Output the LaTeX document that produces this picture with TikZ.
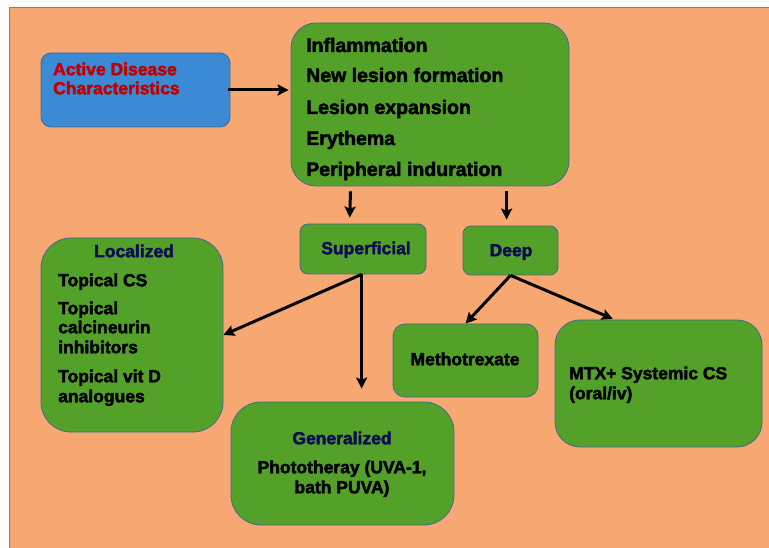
\documentclass[tikz,border=0pt]{standalone}
\usepackage{fontspec}
\setmainfont{Liberation Sans}
\newfontfamily\hvy[FakeBold=2.5]{Liberation Sans Bold}
\usetikzlibrary{arrows.meta,calc}
\definecolor{bgor}{RGB}{247,168,114}
\definecolor{bxgreen}{RGB}{84,161,42}
\definecolor{bxblue}{RGB}{58,138,214}
\definecolor{bxedge}{RGB}{65,105,140}
\definecolor{redtxt}{RGB}{192,0,0}
\definecolor{navytxt}{RGB}{12,14,80}
\definecolor{framecol}{RGB}{165,115,85}
\begin{document}
\begin{tikzpicture}[x=1pt,y=-1pt,
  box/.style={draw=bxedge, line width=0.8pt, fill=bxgreen, rounded corners=#1, inner sep=0pt},
  txt/.style={font=\fontsize{17.5}{20}\hvy, inner sep=0pt, text height=12.5pt, text depth=0pt, text=black},
  bigtxt/.style={txt, font=\fontsize{19.5}{22}\hvy, text height=14pt},
  head/.style={txt, text=navytxt},
  arr/.style={line width=3pt, -{Stealth[length=11pt,width=11pt,inset=2pt]}}]
\useasboundingbox (0,0) rectangle (769,548);
\fill[white] (0,0) rectangle (769,548);
\fill[bgor] (9,8) rectangle (769,548);
\draw[framecol, line width=1pt] (9,548) -- (9,8) -- (769,8);

% boxes
\node[box=10pt, fill=bxblue, minimum width=189pt, minimum height=74pt] (act) at (135.5,90) {};
\node[box=25pt, minimum width=278pt, minimum height=163pt] (top) at (430,104.5) {};
\node[box=8pt, minimum width=126pt, minimum height=50pt] (sup) at (363,249) {};
\node[box=8pt, minimum width=95pt, minimum height=49pt] (deep) at (510.5,250.5) {};
\node[box=30pt, minimum width=182pt, minimum height=194pt] (loc) at (132,335) {};
\node[box=12pt, minimum width=145pt, minimum height=73pt] (meth) at (465.5,360.5) {};
\node[box=25pt, minimum width=207pt, minimum height=127pt] (mtx) at (658.5,383.5) {};
\node[box=30pt, minimum width=223pt, minimum height=123pt] (gen) at (342.5,463.5) {};

% texts
\node[txt, text=redtxt, anchor=west] (act1) at (53,69) {Active Disease};
\node[txt, text=redtxt, anchor=west] (act2) at (53,88) {Characteristics};

\node[bigtxt, anchor=west] (top1) at (306,45) {Inflammation};
\node[bigtxt, anchor=west] (top2) at (306,75) {New lesion formation};
\node[bigtxt, anchor=west] (top3) at (306,107) {Lesion expansion};
\node[bigtxt, anchor=west] (top4) at (306,138) {Erythema};
\node[bigtxt, anchor=west] (top5) at (306,169) {Peripheral induration};

\node[head] (supt) at (366,248) {Superficial};
\node[head] (deept) at (511,250) {Deep};

\node[head] (loct) at (134,251) {Localized};
\node[txt, anchor=west] (loc1) at (58,280) {Topical CS};
\node[txt, anchor=west] (loc2) at (58,308) {Topical};
\node[txt, anchor=west] (loc3) at (58,327) {calcineurin};
\node[txt, anchor=west] (loc4) at (58,347) {inhibitors};
\node[txt, anchor=west] (loc5) at (58,376) {Topical vit D};
\node[txt, anchor=west] (loc6) at (58,396) {analogues};

\node[txt] (metht) at (465,359) {Methotrexate};
\node[txt, anchor=west] (mtx1) at (569,373) {MTX+ Systemic CS};
\node[txt, anchor=west] (mtx2) at (569,393) {(oral/iv)};

\node[head] (gent) at (342,438) {Generalized};
\node[txt] (gen1) at (342,467) {Phototheray (UVA-1,};
\node[txt] (gen2) at (342,487) {bath PUVA)};

% connectors
\draw[arr, shorten <=-2pt, shorten >=2pt] (act.east) -- (act.east -| top.west);
\draw[arr, shorten <=5pt, shorten >=6pt] ($(top.south west)+(60,0)$) -- ($(sup.north west)+(50,0)$);
\draw[arr, shorten <=5pt, shorten >=6pt] ($(top.south west)+(216,0)$) -- ($(deep.north west)+(44,0)$);
\coordinate (supo) at ($(sup.south west)+(62,0)$);
\draw[arr] (supo) -- (loc.east);
\draw[arr, shorten >=13pt] (supo) -- (supo |- gen.north);
\coordinate (deepo) at (deep.south);
\draw[arr] (deepo) -- (meth.north);
\draw[arr, shorten >=2pt] (deepo) -- ($(mtx.north west)+(60,0)$);
\end{tikzpicture}
\end{document}
